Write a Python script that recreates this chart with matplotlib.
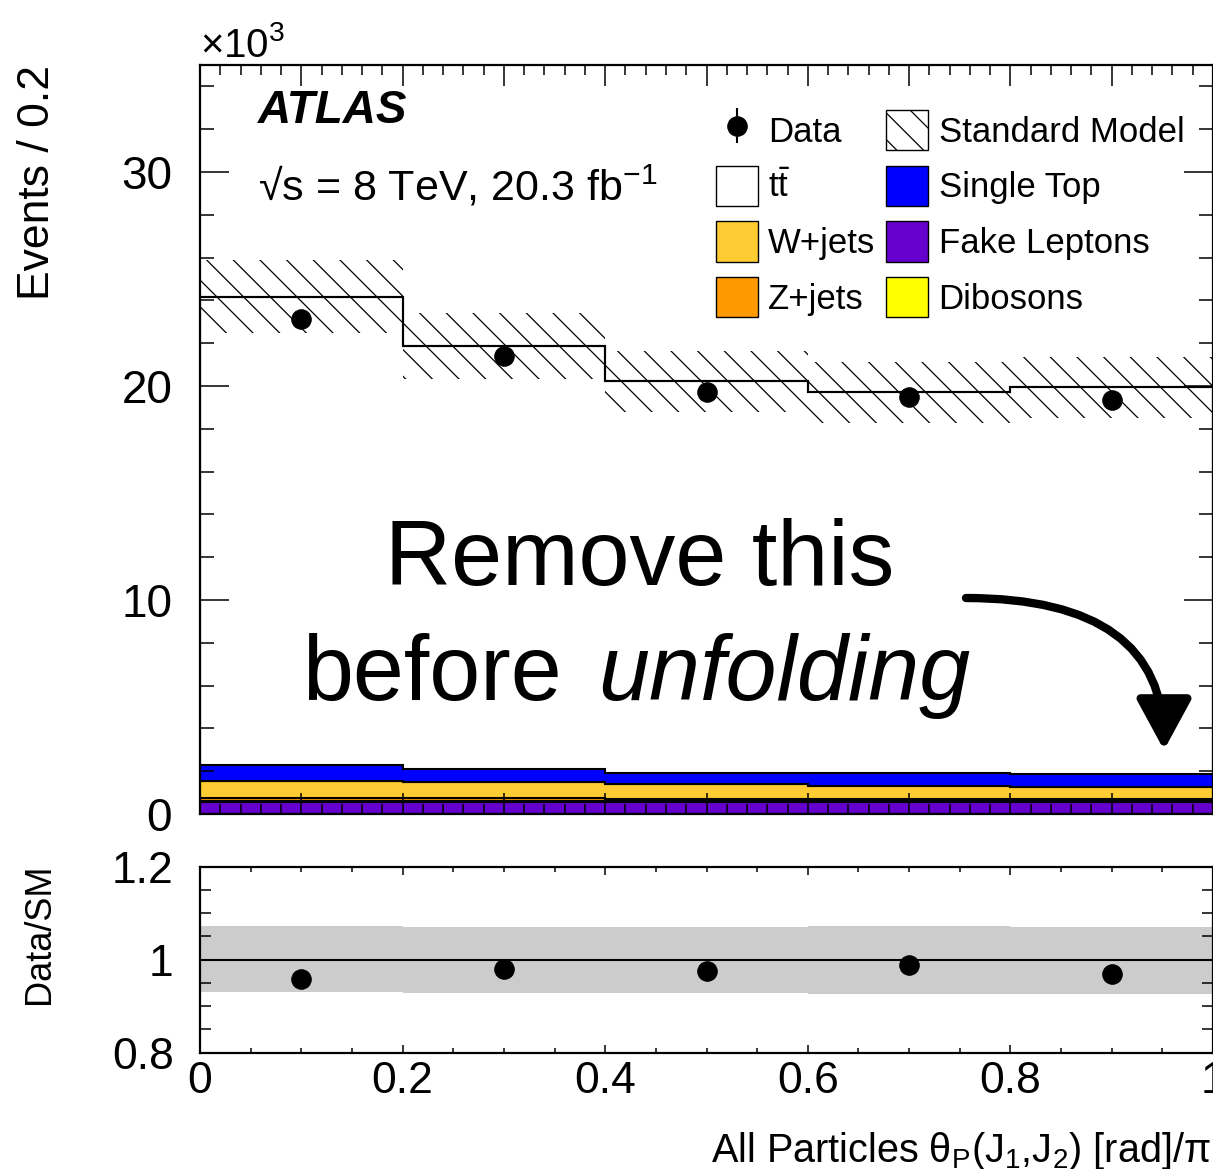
import numpy as np
import matplotlib
matplotlib.use('Agg')
import matplotlib.pyplot as plt
from matplotlib.ticker import MultipleLocator, FuncFormatter
from matplotlib.patches import Patch, FancyArrowPatch

DPI = 80
K = 100.0 / DPI  # sizes below were tuned in points at 100 dpi

plt.rcParams['font.family'] = ['Liberation Sans', 'DejaVu Sans']
plt.rcParams['mathtext.fontset'] = 'custom'
plt.rcParams['mathtext.rm'] = 'Liberation Sans'
plt.rcParams['mathtext.it'] = 'Liberation Sans:italic'
plt.rcParams['mathtext.bf'] = 'Liberation Sans:bold'
plt.rcParams['hatch.linewidth'] = 0.9 * K

# --- data (events per bin) ---
bin_edges = [0.0, 0.2, 0.4, 0.6, 0.8, 1.0]
data = [23150, 21420, 19740, 19470, 19360]
data_err = [152, 146, 140, 140, 139]
fake_leptons = [570, 570, 560, 560, 560]
dibosons = [40, 40, 40, 40, 40]
z_jets = [120, 120, 120, 120, 120]
w_jets = [820, 750, 666, 600, 554]
single_top = [730, 610, 540, 580, 580]
ttbar = [21880, 19790, 18320, 17810, 18120]
# relative systematic band (Data/SM panel)
band_up = [1.0716, 1.0695, 1.0695, 1.0716, 1.0695]
band_down = [0.930, 0.928, 0.928, 0.926, 0.926]

colors = {
    'fake': '#6600cc', 'dib': '#ffff00', 'zj': '#ff9900',
    'wj': '#ffcc33', 'st': '#0000ff', 'tt': 'white',
}

W, H = 1213, 1169
fig = plt.figure(figsize=(W / DPI, H / DPI), dpi=DPI)

def fx(px):
    return px / W

def fy(py):
    return 1 - py / H

ax = fig.add_axes([fx(200), fy(814), 1013 / W, (814 - 65) / H])
rax = fig.add_axes([fx(200), fy(1052.7), 1013 / W, (1052.7 - 866.7) / H])

edges = np.array(bin_edges)
centers = 0.5 * (edges[1:] + edges[:-1])
layers = [
    (fake_leptons, colors['fake']),
    (dibosons, colors['dib']),
    (z_jets, colors['zj']),
    (w_jets, colors['wj']),
    (single_top, colors['st']),
    (ttbar, colors['tt']),
]
bottom = np.zeros(len(centers))
for vals, col in layers:
    top = bottom + np.array(vals)
    ax.stairs(top, edges, baseline=bottom.copy(), fill=True, facecolor=col,
              edgecolor='black', linewidth=1.5 * K, zorder=1)
    bottom = top
total = bottom

# SM uncertainty band
up = total * np.array(band_up)
dn = total * np.array(band_down)
ax.bar(centers, up - dn, bottom=dn, width=0.2, fill=False, hatch='\\',
       edgecolor='black', linewidth=0, zorder=2)
ax.stairs(total, edges, baseline=None, color='black', linewidth=1.5 * K, zorder=3)

dat = ax.errorbar(centers, data, yerr=data_err, fmt='o', color='black',
                  markersize=14 * K, elinewidth=1.5 * K, capsize=0, zorder=4)

ax.set_xlim(0, 1)
ax.set_ylim(0, 35000)

# ratio panel
ratio = np.array(data) / total
ratio_err = np.array(data_err) / total
rax.stairs(band_up, edges, baseline=band_down, fill=True, color='#cccccc',
           linewidth=0, zorder=1)
rax.axhline(1.0, color='black', linewidth=1.5 * K, zorder=2)
rax.errorbar(centers, ratio, yerr=ratio_err, fmt='o', color='black',
             markersize=14 * K, elinewidth=1.5 * K, capsize=0, zorder=3)
rax.set_xlim(0, 1)
rax.set_ylim(0.8, 1.2)

for a in (ax, rax):
    for s in a.spines.values():
        s.set_linewidth(1.6 * K)
    a.tick_params(which='both', direction='in', top=True, right=True, width=1.1 * K)

ax.xaxis.set_major_locator(MultipleLocator(0.1))
ax.xaxis.set_minor_locator(MultipleLocator(0.02))
ax.yaxis.set_major_locator(MultipleLocator(10000))
ax.yaxis.set_minor_locator(MultipleLocator(2000))
ax.tick_params(axis='x', which='major', length=15 * K, labelbottom=False)
ax.tick_params(axis='x', which='minor', length=7 * K)
ax.tick_params(axis='y', which='major', length=21 * K, pad=20 * K, labelsize=33 * K)
ax.tick_params(axis='y', which='minor', length=10 * K)
ax.yaxis.set_major_formatter(FuncFormatter(lambda v, p: '%g' % (v / 1000)))

rax.xaxis.set_major_locator(MultipleLocator(0.2))
rax.xaxis.set_minor_locator(MultipleLocator(0.05))
rax.yaxis.set_major_locator(MultipleLocator(0.2))
rax.yaxis.set_minor_locator(MultipleLocator(0.05))
rax.tick_params(axis='x', which='major', length=6 * K, pad=6 * K, labelsize=32 * K)
rax.tick_params(axis='x', which='minor', length=3.5 * K)
rax.tick_params(axis='y', which='major', length=14 * K, pad=19 * K, labelsize=32 * K)
rax.tick_params(axis='y', which='minor', length=8 * K)
fmt = FuncFormatter(lambda v, p: '%g' % round(v, 2))
rax.xaxis.set_major_formatter(fmt)
rax.yaxis.set_major_formatter(fmt)

# texts
fig.text(fx(38), fy(65), 'Events / 0.2', rotation=90, ha='center', va='top',
         fontsize=32 * K)
fig.text(fx(40), fy(864), 'Data/SM', rotation=90, ha='center', va='top',
         fontsize=26 * K)
fig.text(fx(1211), fy(1162),
         r'All Particles θ$_{\mathrm{P}}$(J$_{1}$,J$_{2}$) [rad]/π',
         ha='right', va='baseline', fontsize=28.5 * K)
fig.text(fx(200), fy(57), r'×10$^{3}$', ha='left', va='baseline', fontsize=29 * K)
fig.text(fx(258), fy(123), 'ATLAS', weight='bold', style='italic',
         fontsize=33 * K, va='baseline')
fig.text(fx(258), fy(200), r'√s = 8 TeV, 20.3 fb$^{-1}$', fontsize=31 * K,
         va='baseline')

# legend
handles = [
    dat,
    Patch(facecolor='white', edgecolor='black', linewidth=K),
    Patch(facecolor=colors['wj'], edgecolor='black', linewidth=K),
    Patch(facecolor=colors['zj'], edgecolor='black', linewidth=K),
    Patch(facecolor='white', edgecolor='black', hatch='\\', linewidth=K),
    Patch(facecolor=colors['st'], edgecolor='black', linewidth=K),
    Patch(facecolor=colors['fake'], edgecolor='black', linewidth=K),
    Patch(facecolor=colors['dib'], edgecolor='black', linewidth=K),
]
labels = ['Data', r'$\mathrm{t\bar{t}}$', 'W+jets', 'Z+jets',
          'Standard Model', 'Single Top', 'Fake Leptons', 'Dibosons']
fig.legend(handles, labels, ncols=2, loc='upper left',
           bbox_to_anchor=(fx(716), fy(110)), bbox_transform=fig.transFigure,
           frameon=False, fontsize=25 * K, borderpad=0, borderaxespad=0,
           handlelength=1.21, handleheight=1.4, handletextpad=0.29,
           labelspacing=0.45, columnspacing=0.32)

# annotation
fig.text(fx(640), fy(585), 'Remove this', ha='center', va='baseline',
         fontsize=66 * K)
fig.text(fx(562), fy(700), 'before', ha='right', va='baseline', fontsize=66 * K)
fig.text(fx(598), fy(700), 'unfolding', ha='left', va='baseline',
         fontsize=66 * K, style='italic')
arrow = FancyArrowPatch((fx(966), fy(598)), (fx(1164), fy(750)),
                        transform=fig.transFigure,
                        connectionstyle='angle3,angleA=0,angleB=90',
                        arrowstyle='-|>,head_length=1.03,head_width=0.56',
                        mutation_scale=30 * K, linewidth=6 * K, color='black',
                        shrinkA=0, shrinkB=0)
fig.patches.append(arrow)

fig.savefig('out.png', dpi=DPI)
